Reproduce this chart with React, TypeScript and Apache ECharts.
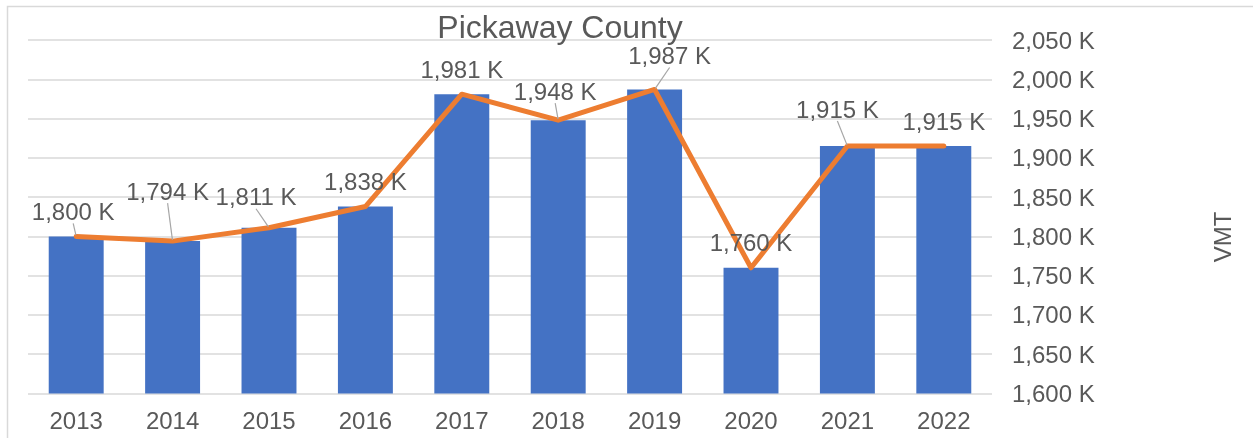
import React, { useEffect, useRef } from "react";
import * as echarts from "echarts";

const years = ["2013", "2014", "2015", "2016", "2017", "2018", "2019", "2020", "2021", "2022"];
const vmtK = [1800, 1794, 1811, 1838, 1981, 1948, 1987, 1760, 1915, 1915];
const yTicks = { min: 1600, max: 2050, interval: 50 };
const titleText = "Pickaway County";
const axisName = "VMT";
// label nudges (px) relative to default top placement, like manually moved Excel labels
const labelDx = [-3, -5, -13, 0, 0, -3, 15, 0, -10, 0];
const labelDy = [0, -25, -6, 0, 0, -4, -9, 0, -12, 0];

const fmt = (v: number) => v.toLocaleString("en-US") + " K";
const FONT = "Liberation Sans, Arial, sans-serif";
const GRAY = "#595959";

export default function App() {
  const ref = useRef<HTMLDivElement>(null);
  useEffect(() => {
    document.body.style.margin = "0";
    const chart = echarts.init(ref.current!, undefined, { renderer: "svg" });
    chart.setOption({
      animation: false,
      textStyle: { fontFamily: FONT },
      title: {
        text: titleText,
        left: 555,
        top: 6,
        textAlign: "center",
        textStyle: { fontFamily: FONT, fontSize: 32, fontWeight: "normal", color: GRAY },
      },
      graphic: [
        {
          type: "rect",
          z: -10,
          shape: { x: 7.5, y: 6.5, width: 1300, height: 500 },
          style: { fill: "none", stroke: "#d9d9d9", lineWidth: 1.5 },
        },
        {
          type: "text",
          x: 1222,
          y: 237,
          rotation: Math.PI / 2,
          style: {
            text: axisName,
            fontFamily: FONT,
            fontSize: 24,
            fill: GRAY,
            textAlign: "center",
            textVerticalAlign: "middle",
          },
        },
      ],
      grid: { left: 28, right: 261, top: 40, bottom: 44.5, containLabel: false },
      xAxis: {
        type: "category",
        data: years,
        axisLine: { show: false },
        axisTick: { show: false },
        axisLabel: { fontFamily: FONT, fontSize: 24, color: GRAY, margin: 15 },
      },
      yAxis: {
        type: "value",
        position: "right",
        min: yTicks.min,
        max: yTicks.max,
        interval: yTicks.interval,
        axisLine: { show: false },
        axisTick: { show: false },
        splitLine: { lineStyle: { color: "#d9d9d9", width: 1.5 } },
        axisLabel: {
          fontFamily: FONT,
          fontSize: 24,
          color: GRAY,
          margin: 20,
          formatter: (v: number) => fmt(v),
        },
      },
      series: [
        {
          type: "bar",
          data: vmtK,
          barWidth: "57%",
          itemStyle: { color: "#4472C4" },
        },
        {
          type: "line",
          data: vmtK.map((v, i) => ({
            value: v,
            labelLine: { show: labelDx[i] !== 0 || labelDy[i] !== 0 },
          })),
          symbol: "circle",
          symbolSize: 2,
          showSymbol: true,
          itemStyle: { color: "#ED7D31" },
          lineStyle: { color: "#ED7D31", width: 5, cap: "round", join: "round" },
          label: {
            show: true,
            position: "top",
            distance: 12,
            fontFamily: FONT,
            fontSize: 24,
            color: GRAY,
            formatter: (p: any) => fmt(p.value),
          },
          labelLine: { show: true, lineStyle: { color: "#a6a6a6", width: 1.2 } },
          labelLayout: (p: any) => ({ dx: labelDx[p.dataIndex], dy: labelDy[p.dataIndex] }),
          z: 3,
        },
      ],
    });
    return () => chart.dispose();
  }, []);
  return (
    <div
      ref={ref}
      style={{ position: "fixed", left: 0, top: 0, width: 1253, height: 438 }}
    />
  );
}
